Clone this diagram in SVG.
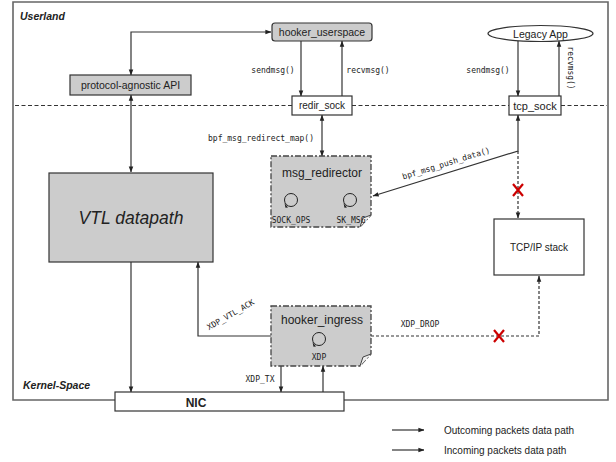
<svg xmlns="http://www.w3.org/2000/svg" width="616" height="462" viewBox="0 0 616 462">
<defs>
<marker id="ah" viewBox="0 0 8 8" refX="7.5" refY="4" markerWidth="6" markerHeight="6" orient="auto-start-reverse" markerUnits="userSpaceOnUse">
<path d="M0,1 L8,4 L0,7 Z" fill="#222"/>
</marker>
<style>
.sans{font-family:"Liberation Sans",Arial,sans-serif;fill:#222}
.mono{font-family:"DejaVu Sans Mono","Liberation Mono",monospace;font-size:8px;fill:#222}
.ln{fill:none;stroke:#333;stroke-width:1.2}
.dl{fill:none;stroke:#333;stroke-width:1.2;stroke-dasharray:3 2}
.box{fill:#fff;stroke:#333;stroke-width:1.2}
.gbox{fill:#cccccc;stroke:#333;stroke-width:1.2}
.ebpf{fill:#cccccc;stroke:#444;stroke-width:1.3;stroke-dasharray:6 2 2 2}
.cir{fill:none;stroke:#222;stroke-width:1}
.x{stroke:#c00;stroke-width:2.2;fill:none}
</style>
</defs>
<rect width="616" height="462" fill="#fff"/>
<!-- frame -->
<g id="frame">
<path d="M115,400 L13,400 L13,2 L608,2 L608,400 L344,400" fill="none" stroke="#666" stroke-width="1.6"/>
<text x="20" y="20" class="sans" font-size="10.5" font-weight="bold" font-style="italic">Userland</text>
<text x="23" y="389" class="sans" font-size="10.5" font-weight="bold" font-style="italic">Kernel-Space</text>
<path d="M15,105.5 H292 M352,105.5 H509 M561,105.5 H607" stroke="#333" stroke-width="1" stroke-dasharray="4 2.5" fill="none"/>
</g>
<g id="connectors">
<path class="ln" d="M131,75 V32 H271" marker-start="url(#ah)" marker-end="url(#ah)"/>
<path class="ln" d="M301,41 V96" marker-end="url(#ah)"/>
<path class="ln" d="M342,96 V41" marker-end="url(#ah)"/>
<path class="ln" d="M518,41 V96" marker-end="url(#ah)"/>
<path class="ln" d="M559,96 V41" marker-end="url(#ah)"/>
<path class="ln" d="M131,95 V172" marker-start="url(#ah)" marker-end="url(#ah)"/>
<path class="ln" d="M322,115 V156" marker-start="url(#ah)" marker-end="url(#ah)"/>
<path class="ln" d="M518,115 V151 L373,196" marker-start="url(#ah)" marker-end="url(#ah)"/>
<path class="dl" d="M518,151 V218" marker-end="url(#ah)"/>
<path class="ln" d="M131,262 V392" marker-end="url(#ah)"/>
<path class="ln" d="M271,336 H198 V262" marker-end="url(#ah)"/>
<path class="ln" d="M281,366 V392" marker-end="url(#ah)"/>
<path class="ln" d="M323,392 V366" marker-end="url(#ah)"/>
<path class="dl" d="M371,336 H539 V276" marker-end="url(#ah)"/>
<path class="x" d="M513,184 L523,196 M523,184 L513,196"/>
<path class="x" d="M494,330 L504,342 M504,330 L494,342"/>
<text x="273" y="73" class="mono" text-anchor="middle">sendmsg()</text>
<text x="368" y="73" class="mono" text-anchor="middle">recvmsg()</text>
<text x="488" y="73" class="mono" text-anchor="middle">sendmsg()</text>
<text transform="translate(568,68) rotate(90)" class="mono" text-anchor="middle">recvmsg()</text>
<text x="261" y="141" class="mono" text-anchor="middle">bpf_msg_redirect_map()</text>
<text transform="translate(447,166) rotate(-17.2)" class="mono" text-anchor="middle">bpf_msg_push_data()</text>
<text transform="translate(232,317) rotate(-30)" class="mono" text-anchor="middle">XDP_VTL_ACK</text>
<text x="260" y="382" class="mono" text-anchor="middle">XDP_TX</text>
<text x="420" y="327" class="mono" text-anchor="middle">XDP_DROP</text>
</g>
<g id="hooker_userspace">
<rect x="272" y="23" width="100" height="18" rx="3" class="gbox"/>
<text x="322" y="35.5" class="sans" font-size="10.5" text-anchor="middle">hooker_userspace</text>
</g>
<g id="protocol_api">
<rect x="70" y="75" width="121" height="20" class="gbox"/>
<text x="130.5" y="88.5" class="sans" font-size="10.5" text-anchor="middle">protocol-agnostic API</text>
</g>
<g id="legacy_app">
<ellipse cx="540.5" cy="33.5" rx="52.5" ry="8" class="box"/>
<text x="540.5" y="37.5" class="sans" font-size="10.5" text-anchor="middle">Legacy App</text>
</g>
<g id="redir_sock">
<rect x="292" y="96" width="60" height="19" class="box"/>
<text x="322" y="109" class="sans" font-size="10" text-anchor="middle">redir_sock</text>
</g>
<g id="tcp_sock">
<rect x="509" y="96" width="52" height="19" class="box"/>
<text x="535" y="109.5" class="sans" font-size="11" text-anchor="middle">tcp_sock</text>
</g>
<g id="vtl_datapath">
<rect x="49" y="173" width="164" height="89" class="gbox"/>
<text x="131" y="224" class="sans" font-size="17.5" font-style="italic" text-anchor="middle">VTL datapath</text>
</g>
<g id="msg_redirector">
<path d="M271,156 H371 V215 L360,227 H271 Z" class="ebpf"/>
<path d="M360,227 L363,218 L371,215" fill="#eee" stroke="#444" stroke-width="1"/>
<text x="322" y="177" class="sans" font-size="12" text-anchor="middle">msg_redirector</text>
<circle cx="291" cy="200" r="6.5" class="cir"/>
<path d="M284.5,203 L288,207.5 L285.5,207.8 Z" fill="#222"/>
<circle cx="350" cy="200" r="6.5" class="cir"/>
<path d="M343.5,203 L347,207.5 L344.5,207.8 Z" fill="#222"/>
<text x="291" y="223" class="mono" font-size="7" text-anchor="middle">SOCK_OPS</text>
<text x="351" y="223" class="mono" font-size="7" text-anchor="middle">SK_MSG</text>
</g>
<g id="hooker_ingress">
<path d="M271,306 H371 V354 L360,366 H271 Z" class="ebpf"/>
<path d="M360,366 L363,357 L371,354" fill="#eee" stroke="#444" stroke-width="1"/>
<text x="322" y="324" class="sans" font-size="12" text-anchor="middle">hooker_ingress</text>
<circle cx="319" cy="339" r="6.5" class="cir"/>
<path d="M312.5,342 L316,346.5 L313.5,346.8 Z" fill="#222"/>
<text x="319" y="360" class="mono" font-size="6.5" text-anchor="middle">XDP</text>
</g>
<g id="tcpip_stack">
<rect x="494" y="219" width="90" height="56" class="box"/>
<text x="539" y="251" class="sans" font-size="10" text-anchor="middle">TCP/IP stack</text>
</g>
<g id="nic">
<rect x="115" y="392" width="229" height="19" class="box"/>
<text x="196" y="406.5" class="sans" font-size="12" font-weight="bold" text-anchor="middle">NIC</text>
</g>
<g id="legend">
<path class="ln" d="M392,430 H424" marker-end="url(#ah)"/>
<path class="ln" d="M392,450 H424" marker-end="url(#ah)"/>
<text x="444" y="433.5" class="sans" font-size="10">Outcoming packets data path</text>
<text x="444" y="453.5" class="sans" font-size="10">Incoming packets data path</text>
</g>
</svg>
